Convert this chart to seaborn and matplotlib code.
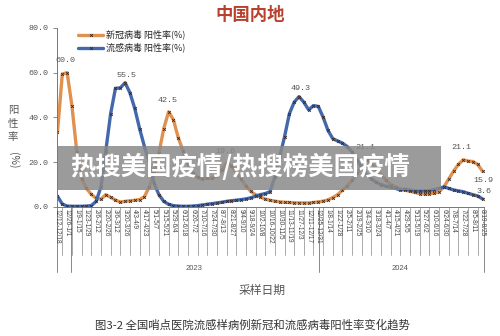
import matplotlib
matplotlib.use("Agg")
import matplotlib.pyplot as plt
import matplotlib.transforms as mtransforms
from matplotlib.lines import Line2D
from matplotlib.patches import Rectangle
import numpy as np
import pandas as pd
import seaborn as sns

sns.set_style("white")
plt.rcParams["font.family"] = ["Noto Sans CJK SC", "DejaVu Sans"]

# weekly sampling, week starting 2022-12-12 .. 2024-08-19
weeks = pd.date_range("2022-12-12", periods=89, freq="7D")

covid = [33.5, 59.4, 60.0, 45.0, 24.6, 12.7, 8.3, 5.6, 3.9, 3.5,
         5.5, 4.3, 3.1, 2.2, 2.5, 2.8, 3.0, 3.3, 4.6, 9.0,
         15.0, 24.0, 35.0, 42.5, 39.0, 31.0, 25.0, 19.5, 15.0, 13.2,
         12.5, 13.0, 12.8, 14.0, 16.5, 19.6, 18.5, 15.5, 12.5, 9.5,
         7.0, 5.5, 4.5, 3.5, 3.0, 2.6, 2.3, 2.1, 2.0, 1.9,
         1.8, 1.8, 1.8, 2.0, 2.3, 2.6, 3.2, 4.2, 5.5, 7.5,
         9.5, 12.0, 15.0, 18.0, 21.1, 19.5, 17.0, 14.5, 12.0, 10.0,
         9.0, 8.0, 7.5, 7.0, 6.5, 6.0, 5.8, 6.0, 6.2, 6.8,
         9.0, 12.5, 16.0, 19.0, 21.1, 20.5, 20.3, 19.0, 15.9]

flu = [4.8, 1.3, 0.4, 0.3, 0.3, 0.3, 0.4, 0.6, 2.5, 9.0,
       25.0, 41.6, 53.0, 53.2, 55.5, 51.0, 44.0, 35.0, 27.0, 20.0,
       10.5, 5.5, 2.5, 1.2, 0.6, 0.4, 0.3, 0.3, 0.4, 0.6,
       0.9, 1.2, 1.5, 1.8, 2.1, 2.5, 2.8, 3.0, 3.3, 3.6,
       4.1, 4.8, 5.5, 6.0, 6.8, 13.5, 22.4, 31.3, 41.6, 46.8,
       49.3, 46.8, 43.4, 45.3, 44.9, 40.1, 34.2, 30.5, 29.5, 28.5,
       27.0, 24.5, 21.0, 17.5, 14.5, 12.7, 11.0, 10.0, 9.3, 8.8,
       8.3, 7.6, 8.0, 7.5, 7.1, 7.1, 7.2, 7.3, 7.8, 8.3,
       9.0, 8.3, 7.6, 7.2, 6.8, 6.1, 5.5, 4.9, 3.6]

covid_label_idx = [2, 23, 35, 64, 84, 88]
flu_label_idx = [14, 50, 88]

tick_labels = [f"{d.month}/{d.day}-{(d + pd.Timedelta(days=6)).month}/{(d + pd.Timedelta(days=6)).day}"
               for d in weeks]
years = ["2023", "2024"]

orange = "#E0914F"
blue = "#4468AC"
mark = "#3a2a20"

df = pd.DataFrame({"idx": np.arange(len(weeks)), "covid": covid, "flu": flu})

fig = plt.figure(figsize=(5, 3.36), dpi=100)
ax = fig.add_axes([0.114, 0.384, 0.854, 0.533])

for col, c in [("covid", orange), ("flu", blue)]:
    sns.lineplot(data=df, x="idx", y=col, color=c, lw=2.4, marker="x",
                 markersize=2.0, markeredgecolor=mark, markeredgewidth=0.6, ax=ax)

ax.set_xlim(-0.1, 88.3)
ax.set_ylim(0, 80)
ax.set_yticks([0, 20, 40, 60, 80])
ax.set_yticklabels([f"{v:.1f}" for v in [0, 20, 40, 60, 80]],
                   family="Liberation Mono", fontsize=6, color="#555555")
ax.tick_params(axis="y", length=3, width=0.6, color="#777777", left=True, pad=3)
ax.set_xticks([])
ax.set_xlabel("")
ax.set_ylabel("")
for s in ["top", "right"]:
    ax.spines[s].set_visible(False)
for s in ["left", "bottom"]:
    ax.spines[s].set_color("#777777")
    ax.spines[s].set_linewidth(0.7)

# data labels
num_font = dict(family="Liberation Mono", fontsize=6, color="#555555")
for i in covid_label_idx:
    if i == len(covid) - 1:
        ax.annotate(f"{covid[i]:.1f}", (i, covid[i]), xytext=(1, -4), textcoords="offset points",
                    ha="center", va="top", **num_font)
    else:
        ax.annotate(f"{covid[i]:.1f}", (i, covid[i]), xytext=(-1, 6), textcoords="offset points",
                    ha="center", va="bottom", **num_font)
for i in flu_label_idx:
    ax.annotate(f"{flu[i]:.1f}", (i, flu[i]), xytext=(1, 3), textcoords="offset points",
                ha="center", va="bottom", **num_font)

# category axis: rotated labels, separators and year groups
trans = mtransforms.blended_transform_factory(ax.transData, ax.transAxes)
for i in range(0, len(weeks), 2):
    ax.text(i, -0.012, tick_labels[i], rotation=-90, ha="center", va="top",
            family="Liberation Sans", fontsize=4.7, color="#444444",
            transform=trans, clip_on=False)
for i in range(1, len(weeks), 2):
    ax.plot([i, i], [0, -0.27], color="#888888", lw=0.5, transform=trans, clip_on=False)
for xs in [-0.1, 2.7, 54.2, 88.3]:
    ax.plot([xs, xs], [0, -0.365], color="#888888", lw=0.7, transform=trans, clip_on=False)

fig.text(194 / 500, 1 - 268 / 336, years[0], ha="center", va="center",
         family="Liberation Sans", fontsize=5.5, color="#555555")
fig.text(400 / 500, 1 - 268 / 336, years[1], ha="center", va="center",
         family="Liberation Sans", fontsize=5.5, color="#555555")

fig.text(262 / 500, 1 - 290 / 336, "采样日期", ha="center", va="center",
         fontsize=8.5, color="#555555")
fig.text(252 / 500, 1 - 325 / 336, "图3-2 全国哨点医院流感样病例新冠和流感病毒阳性率变化趋势",
         ha="center", va="center", fontsize=8.2, color="#333333")

# y label, stacked
for ch, y in [("阳", 110), ("性", 124), ("率", 137)]:
    fig.text(13 / 500, 1 - y / 336, ch, ha="center", va="center", fontsize=7.5, color="#555555")
fig.text(13 / 500, 1 - 160 / 336, "(%)", ha="center", va="center", rotation=-90,
         fontsize=7.5, color="#555555")

fig.text(250 / 500, 1 - 15 / 336, "中国内地", ha="center", va="center",
         fontsize=12.5, fontweight="bold", color="#B8402C")

handles = [Line2D([], [], color=orange, lw=2.4, marker="x", markersize=2.0,
                  markeredgecolor=mark, markeredgewidth=0.6),
           Line2D([], [], color=blue, lw=2.4, marker="x", markersize=2.0,
                  markeredgecolor=mark, markeredgewidth=0.6)]
fig.legend(handles, ["新冠病毒 阳性率(%)", "流感病毒 阳性率(%)"], loc="upper left",
           bbox_to_anchor=(0.14, 0.935), frameon=False, fontsize=6.5,
           handlelength=2.8, handletextpad=0.3, labelspacing=0.35)

# overlay banner
fig.patches.append(Rectangle((58 / 500, 1 - 190 / 336), (441 - 58) / 500, 44 / 336,
                             transform=fig.transFigure, facecolor="#8a8a8a", alpha=0.85,
                             edgecolor="none", zorder=5))
fig.text(70 / 500, 1 - 167 / 336, "热搜美国疫情/热搜榜美国疫情", ha="left", va="center",
         fontsize=18.3, fontweight="bold", color="white", zorder=6)

fig.savefig("out.png", dpi=100)
